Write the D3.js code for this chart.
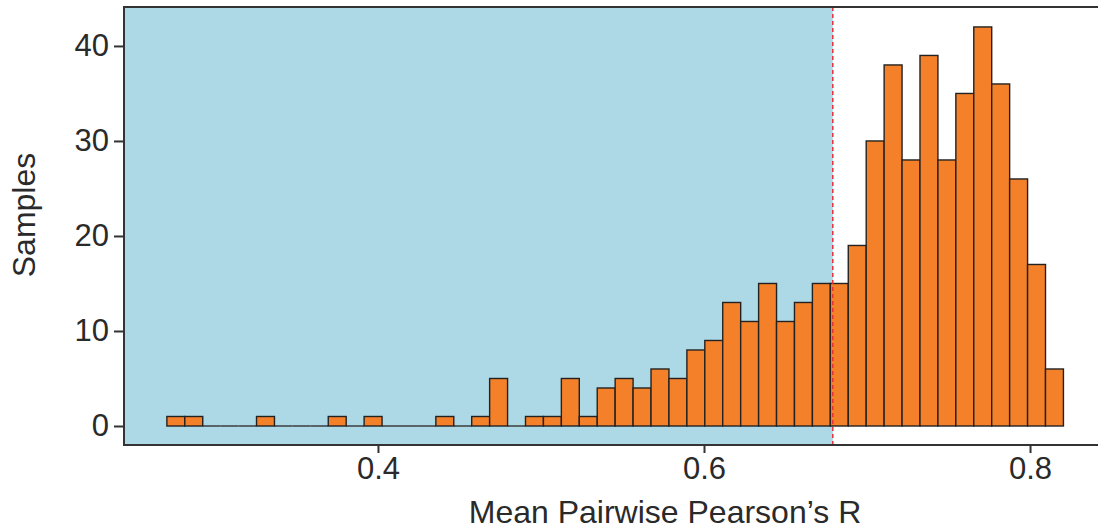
<!DOCTYPE html>
<html>
<head>
<meta charset="utf-8">
<script src="https://cdn.jsdelivr.net/npm/d3@7"></script>
<style>
  body { margin: 0; background: #fff; }
  text { font-family: "Liberation Sans", Arial, Helvetica, sans-serif; fill: #2a2a2a; }
</style>
</head>
<body>
<svg id="chart"></svg>
<script>
const width = 1098;
const height = 530;

// histogram bins: first left edge and width, counts per bin
const binStart = 0.2705;
const binWidth = 0.011;
const counts = [1, 1, 0, 0, 0, 1, 0, 0, 0, 1,
                0, 1, 0, 0, 0, 1, 0, 1, 5, 0,
                1, 1, 5, 1, 4, 5, 4, 6, 5, 8,
                9, 13, 11, 15, 11, 13, 15, 15, 19, 30,
                38, 28, 39, 28, 35, 42, 36, 26, 17, 6];
const threshold = 0.679;
const xTicks = [0.4, 0.6, 0.8];
const yTicks = [0, 10, 20, 30, 40];

const bins = counts.map((c, i) => ({ x0: binStart + i * binWidth, x1: binStart + (i + 1) * binWidth, n: c }));

const panelLeft = 124, panelTop = 7, panelBottom = 445;

const svg = d3.select('#chart')
    .attr('width', width)
    .attr('height', height);

const x = d3.scaleLinear()
  .domain([0.2442, 0.8417])
  .range([panelLeft, width]);

const y = d3.scaleLinear()
  .domain([-2.0, 44.1])
  .range([panelBottom, panelTop]);

// shaded region below threshold
svg.append('rect')
  .attr('x', panelLeft)
  .attr('y', panelTop)
  .attr('width', x(threshold) - panelLeft)
  .attr('height', panelBottom - panelTop)
  .attr('fill', '#add8e6');

// empty bins still get their outline at the baseline
svg.selectAll('.empty')
  .data(bins.filter(d => d.n === 0))
  .enter().append('line')
    .attr('class', 'empty')
    .attr('x1', d => x(d.x0))
    .attr('x2', d => x(d.x1))
    .attr('y1', y(0))
    .attr('y2', y(0))
    .attr('stroke', '#333')
    .attr('stroke-width', 1.4);

svg.selectAll('.bar')
  .data(bins.filter(d => d.n > 0))
  .enter().append('rect')
    .attr('class', 'bar')
    .attr('x', d => x(d.x0))
    .attr('y', d => y(d.n))
    .attr('width', d => x(d.x1) - x(d.x0))
    .attr('height', d => y(0) - y(d.n))
    .attr('fill', '#f4812a')
    .attr('stroke', '#222')
    .attr('stroke-width', 1.4);

svg.append('line')
  .attr('x1', x(threshold)).attr('x2', x(threshold))
  .attr('y1', panelTop).attr('y2', panelBottom)
  .attr('stroke', '#e8313a')
  .attr('stroke-width', 1.5)
  .attr('stroke-dasharray', '4,3');

// panel border
svg.append('path')
  .attr('d', 'M' + (width + 2) + ',' + panelTop + 'H' + panelLeft + 'V' + panelBottom + 'H' + (width + 2))
  .attr('fill', 'none')
  .attr('stroke', '#333')
  .attr('stroke-width', 2);

const xAxis = svg.append('g')
  .attr('transform', 'translate(0,' + (panelBottom + 1) + ')')
  .call(d3.axisBottom(x).tickValues(xTicks).tickFormat(d3.format('.1f')).tickSize(7).tickPadding(4));

const yAxis = svg.append('g')
  .attr('transform', 'translate(' + (panelLeft - 1) + ',0)')
  .call(d3.axisLeft(y).tickValues(yTicks).tickSize(9).tickPadding(5));

[xAxis, yAxis].forEach(a => {
  a.select('.domain').remove();
  a.selectAll('.tick line').attr('stroke', '#333').attr('stroke-width', 2);
  a.selectAll('.tick text')
    .style('font-size', '31px')
    .style('font-family', '"Liberation Sans", Arial, sans-serif')
    .attr('fill', '#2a2a2a');
});

svg.append('text')
  .attr('x', 665)
  .attr('y', 523)
  .attr('text-anchor', 'middle')
  .style('font-size', '32px')
  .text('Mean Pairwise Pearson’s R');

svg.append('text')
  .attr('transform', 'translate(35,215) rotate(-90)')
  .attr('text-anchor', 'middle')
  .style('font-size', '32px')
  .text('Samples');
</script>
</body>
</html>
